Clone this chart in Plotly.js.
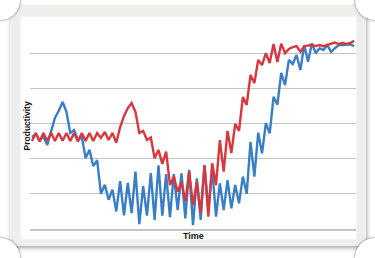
<!DOCTYPE html>
<html>
<head>
<meta charset="utf-8">
<script src="https://cdn.plot.ly/plotly-3.0.1.min.js"></script>
<style>
  html, body { margin: 0; padding: 0; background: #ffffff; }
  #wrap { position: relative; width: 375px; height: 258px; overflow: hidden; }
  .frame { position: absolute; left: 10px; top: 5px; width: 356px; height: 241px;
           background: #eeeeec; box-shadow: 1px 2px 4px rgba(0,0,0,0.35); }
  .inner { position: absolute; left: 20px; top: 16px; width: 337px; height: 224px;
           background: #ffffff; box-shadow: inset 0 0 2px rgba(0,0,0,0.15); }
  .corner { position: absolute; width: 40px; height: 40px; border-radius: 50%;
            background: #ffffff; box-shadow: 0 0 3px rgba(0,0,0,0.55); pointer-events: none; }
  #chart { position: absolute; left: 0; top: 0; width: 375px; height: 258px; }
</style>
</head>
<body>
<div id="wrap">
  <div class="frame"></div>
  <div class="inner"></div>
  <div id="chart"></div>
  <div class="corner" style="left:-20px; top:-20px;"></div>
  <div class="corner" style="left:355px; top:-20px;"></div>
  <div class="corner" style="left:-20px; top:238px;"></div>
  <div class="corner" style="left:355px; top:238px;"></div>
</div>
<script>
// Time periods (categories)
const periods = [];
for (let i = 0; i < 85; i++) periods.push(i);

// Productivity, blue series
const blueSeries = [
  26.2, 27.0, 25.3, 26.2, 23.9, 27.9, 31.6, 33.6, 36.1, 33.3,
  27.3, 28.1, 25.3, 26.2, 20.2, 22.5, 17.9, 19.6, 10.0, 12.6,
  8.3, 11.2, 5.0, 13.6, 3.9, 13.1, 4.5, 16.3, 1.4, 12.2,
  3.8, 15.9, 2.6, 18.1, 3.8, 15.6, 3.4, 15.6, 5.4, 15.8,
  3.0, 16.8, 1.1, 14.4, 2.6, 18.2, 5.4, 17.3, 3.5, 13.0,
  5.4, 13.9, 5.9, 12.5, 7.3, 14.9, 10.0, 24.8, 14.9, 27.4,
  21.5, 30.1, 27.2, 37.6, 35.3, 44.4, 40.9, 48.1, 46.9, 49.5,
  45.2, 52.3, 47.6, 52.8, 50.0, 51.4, 50.9, 52.3, 50.4, 51.4,
  52.3, 52.3, 52.5, 52.5, 52.0
];

// Productivity, red series
const redSeries = [
  25.0, 27.3, 24.9, 27.3, 25.0, 27.4, 25.0, 27.3, 25.1, 27.3,
  25.0, 27.3, 24.9, 27.3, 25.0, 27.3, 25.0, 27.3, 25.9, 27.6,
  25.3, 27.3, 24.5, 29.0, 32.1, 34.4, 35.8, 33.3, 27.3, 27.9,
  25.3, 26.0, 20.1, 22.5, 18.5, 22.0, 12.5, 14.9, 10.6, 13.4,
  7.8, 16.3, 6.8, 13.4, 4.5, 18.2, 3.5, 18.7, 12.5, 25.3,
  16.3, 27.9, 21.6, 29.9, 27.9, 37.5, 35.3, 43.8, 41.5, 48.1,
  46.6, 50.0, 47.2, 52.6, 47.5, 52.7, 50.0, 51.2, 51.7, 52.0,
  50.4, 51.9, 52.2, 52.3, 52.0, 52.3, 52.0, 52.3, 52.6, 53.0,
  52.6, 52.9, 52.6, 52.9, 53.5
];

const xTitle = "Time";
const yTitle = "Productivity";

const traces = [
  { x: periods, y: blueSeries, type: "scatter", mode: "lines",
    line: { color: "#3a7ec6", width: 2.4 }, hoverinfo: "skip" },
  { x: periods, y: redSeries, type: "scatter", mode: "lines",
    line: { color: "#d6383e", width: 2.4 }, hoverinfo: "skip" }
];

const layout = {
  width: 375, height: 258,
  margin: { l: 30, r: 19, t: 18, b: 29, pad: 0 },
  paper_bgcolor: "rgba(0,0,0,0)",
  plot_bgcolor: "rgba(0,0,0,0)",
  showlegend: false,
  xaxis: {
    range: [-0.5, 84.5], showgrid: false, zeroline: false,
    showline: true, linecolor: "#c4c4c4", linewidth: 1.5,
    ticks: "", showticklabels: false, fixedrange: true
  },
  yaxis: {
    range: [0, 60], dtick: 10, tick0: 0, showgrid: true,
    gridcolor: "#c4c4c4", gridwidth: 1.3, zeroline: false,
    showline: false, ticks: "", showticklabels: false, fixedrange: true
  },
  annotations: [
    { text: xTitle, xref: "paper", yref: "paper", x: 0.5, y: -0.033,
      xanchor: "center", yanchor: "middle", showarrow: false,
      font: { family: "Liberation Sans, Arial, sans-serif", size: 9, color: "#111111", weight: "bold" } },
    { text: yTitle, xref: "paper", yref: "paper", x: -0.0092, y: 0.486,
      xanchor: "center", yanchor: "middle", showarrow: false, textangle: -90,
      font: { family: "Liberation Sans, Arial, sans-serif", size: 8.5, color: "#111111", weight: "bold" } }
  ]
};

Plotly.newPlot("chart", traces, layout, { displayModeBar: false, staticPlot: true });
</script>
</body>
</html>
